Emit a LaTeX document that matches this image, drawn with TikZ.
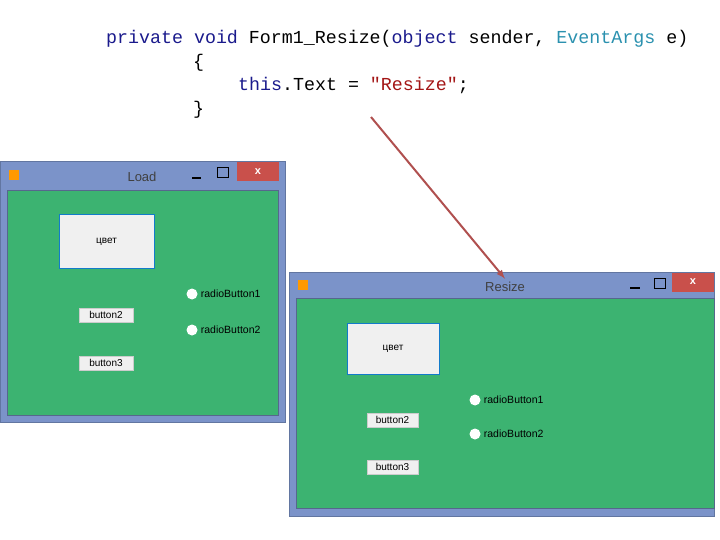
\documentclass[tikz,border=0pt]{standalone}
\usepackage{fontspec}
\setmainfont{Liberation Sans}
\setmonofont{Liberation Mono}
\usetikzlibrary{positioning}
\definecolor{frame}{HTML}{7B93C9}
\definecolor{formgreen}{HTML}{3CB371}
\definecolor{closered}{HTML}{C9504B}
\definecolor{kw}{HTML}{1A1A8C}
\definecolor{typ}{HTML}{2B91AF}
\definecolor{str}{HTML}{A31515}
\definecolor{arr}{HTML}{B0504F}
\tikzset{
  winframe/.style={draw=frame!80!black, fill=frame, line width=1pt},
  client/.style={fill=formgreen, draw=frame!70!black},
  closebtn/.style={fill=closered, text=white, font=\bfseries\fontsize{11}{11}\selectfont},
  btn/.style={draw=gray!40, fill=gray!12, inner sep=0pt, font=\fontsize{10}{10}\selectfont},
  bigbtn/.style={btn, draw=cyan!60!blue, line width=1pt},
  radio/.style={circle, fill=white, minimum size=11pt, inner sep=0pt},
  rlabel/.style={right=3pt of #1, inner sep=0pt, font=\fontsize{10.5}{10.5}\selectfont},
  code/.style={anchor=base west, inner sep=0pt, font=\ttfamily\fontsize{18.3}{18.3}\selectfont},
  wtitle/.style={text=black!75, font=\fontsize{13}{13}\selectfont},
  arrow/.style={arr, line width=2pt, -latex}
}
\begin{document}
\begin{tikzpicture}[x=1pt,y=-1pt]
\useasboundingbox (0,0) rectangle (720,540);
% code
\node (l1) [code] at (106,44) {\textcolor{kw}{private} \textcolor{kw}{void} Form1\_Resize(\textcolor{kw}{object} sender, \textcolor{typ}{EventArgs} e)};
\node (l2) [code] at (193,68) {\{};
\node (l3) [code] at (238,91) {\textcolor{kw}{this}.Text = \textcolor{str}{"Resize"};};
\node (l4) [code] at (193,115) {\}};
% form Load
\draw [winframe] (0,162) rectangle (285,422);
\fill [client] (7,190) rectangle (278,415);
\node (c1) [closebtn, minimum width=42pt, minimum height=19pt] at (258,172) {x};
\node (t1) [wtitle] at (142,177) {Load};
\draw [line width=2pt] (192,178) -- (201,178);
\draw [line width=1pt] (217,168) rectangle (228,178);
\fill [orange!80!yellow] (9,170) rectangle (19,180);
\node (b1) [bigbtn, minimum width=95pt, minimum height=53pt] at (106.5,241.5) {цвет};
\node (b2) [btn, minimum width=54pt, minimum height=14pt] at (106,315) {button2};
\node (b3) [btn, minimum width=54pt, minimum height=14pt] at (106,363) {button3};
\node (r1) [radio] at (192,294) {};
\node [rlabel=r1] {radioButton1};
\node (r2) [radio] at (192,330) {};
\node [rlabel=r2] {radioButton2};
% form Resize
\draw [winframe] (289,272) rectangle (714,516);
\fill [client] (296,298) rectangle (714,508);
\node (c2) [closebtn, minimum width=42pt, minimum height=19pt] at (693,282) {x};
\node (t2) [wtitle] at (505,287) {Resize};
\draw [line width=2pt] (630,288) -- (640,288);
\draw [line width=1pt] (654,278) rectangle (665,288);
\fill [orange!80!yellow] (298,280) rectangle (308,290);
\node (b4) [bigbtn, minimum width=92pt, minimum height=51pt] at (393,348.5) {цвет};
\node (b5) [btn, minimum width=51pt, minimum height=14pt] at (392.5,420) {button2};
\node (b6) [btn, minimum width=51pt, minimum height=14pt] at (392.5,467) {button3};
\node (r3) [radio] at (475,400) {};
\node [rlabel=r3] {radioButton1};
\node (r4) [radio] at (475,434) {};
\node [rlabel=r4] {radioButton2};
% arrow
\coordinate (a0) at (371,117);
\draw [arrow] (a0) -- (t2.north);
\end{tikzpicture}
\end{document}
